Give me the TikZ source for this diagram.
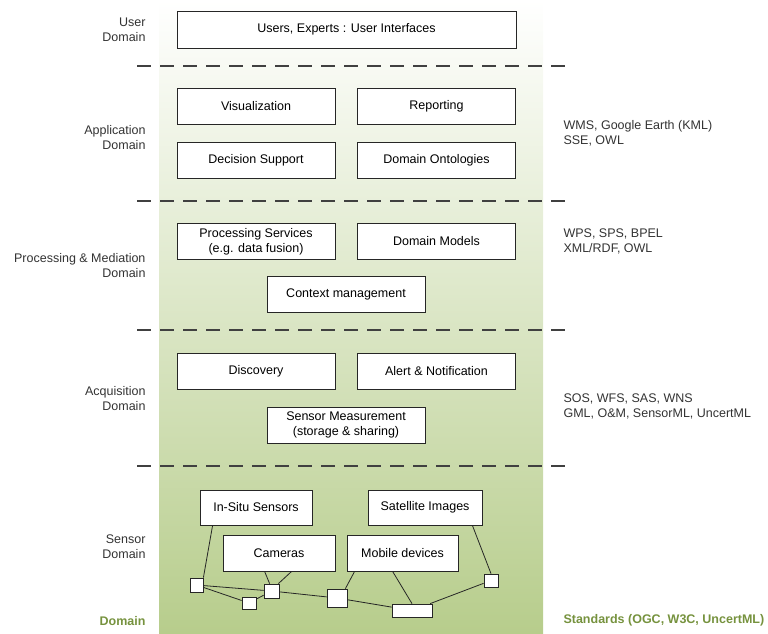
\documentclass[tikz,border=0pt]{standalone}
\usepackage{fontspec}
\setmainfont{Liberation Sans}
\usetikzlibrary{calc}

\definecolor{strip}{RGB}{183,205,140}
\definecolor{olive}{RGB}{118,146,62}

\begin{document}
\begin{tikzpicture}[x=1pt,y=-1pt,
    font=\fontsize{12.5}{15}\selectfont,
    blk/.style={draw=black!85,fill=white,line width=0.8pt,inner sep=0pt,minimum width=158pt,minimum height=36pt,align=center},
    sq/.style={draw=black!85,fill=white,line width=0.8pt,inner sep=0pt,minimum width=#1,minimum height=13pt},
    sep/.style={draw=black!75,line width=1.2pt,dash pattern=on 14pt off 9pt},
    lbl/.style={anchor=east,align=right,text=black!80},
    std/.style={anchor=west,align=left,text=black!80}]
      \useasboundingbox (0,0) rectangle (768,633);
      \shade[top color=white,bottom color=strip] (159,0) rectangle (543,633);

      \draw[sep] (137,66) -- (566,66);
      \draw[sep] (137,201) -- (566,201);
      \draw[sep] (137,330) -- (566,330);
      \draw[sep] (137,466) -- (566,466);

      \node[blk,minimum width=339pt,minimum height=37pt] (users) at (346.5,29.5) {Users, Experts : User Interfaces};

      \node[blk] (vis) at (256,106.5) {Visualization};
      \node[blk] (rep) at (436.5,106.5) {Reporting};
      \node[blk] (dec) at (256,160) {Decision Support};
      \node[blk] (ont) at (436.5,160) {Domain Ontologies};

      \node[blk] (proc) at (256,241.5) {Processing Services\\(e.g. data fusion)};
      \node[blk] (models) at (436.5,241.5) {Domain Models};
      \node[blk] (ctx) at (346,294) {Context management};

      \node[blk] (disc) at (256,371) {Discovery};
      \node[blk] (alert) at (436.5,371) {Alert \& Notification};
      \node[blk] (meas) at (346,425) {Sensor Measurement\\(storage \& sharing)};

      \node[blk,minimum width=112pt,minimum height=35pt] (insitu) at (256,507.5) {In-Situ Sensors};
      \node[blk,minimum width=114pt,minimum height=35pt] (sat) at (425,507.5) {Satellite Images};
      \node[blk,minimum width=112pt] (cam) at (279,553) {Cameras};
      \node[blk,minimum width=111pt] (mob) at (402.5,553) {Mobile devices};

      \node[sq=13pt,minimum height=14pt] (s1) at (196.5,585) {};
      \node[sq=14pt,minimum height=12pt] (s2) at (249,603) {};
      \node[sq=15pt,minimum height=14pt] (s3) at (271.5,591) {};
      \node[sq=20pt,minimum height=18pt] (s4) at (337,598) {};
      \node[sq=40pt] (s5) at (412,610.5) {};
      \node[sq=14pt] (s6) at (491,580.5) {};

      \draw[black!85,line width=0.8pt] ($(insitu.south west)+(13,0)$) -- (s1.north east);
      \draw[black!85,line width=0.8pt] (s1) -- (s3);
      \draw[black!85,line width=0.8pt] (s1) -- (s2);
      \draw[black!85,line width=0.8pt] (s2) -- (s3);
      \draw[black!85,line width=0.8pt] ($(cam.south west)+(42,0)$) -- ($(s3.north west)+(6,0)$);
      \draw[black!85,line width=0.8pt] ($(cam.south west)+(69,0)$) -- ($(s3.north east)+(-1,0)$);
      \draw[black!85,line width=0.8pt] (s3) -- (s4);
      \draw[black!85,line width=0.8pt] ($(mob.south west)+(8,0)$) -- ($(s4.north east)+(-2,0)$);
      \draw[black!85,line width=0.8pt] ($(mob.south west)+(46,0)$) -- (s5.north);
      \draw[black!85,line width=0.8pt] (s4) -- (s5);
      \draw[black!85,line width=0.8pt] (s5) -- (s6);
      \draw[black!85,line width=0.8pt] ($(sat.south east)+(-10,0)$) -- (s6.north);

      \node[lbl] (luser) at (149,30) {User\\Domain};
      \node[lbl] (lapp) at (149,138) {Application\\Domain};
      \node[lbl] (lproc) at (149,266) {Processing \& Mediation\\Domain};
      \node[lbl] (lacq) at (149,399) {Acquisition\\Domain};
      \node[lbl] (lsens) at (149,547) {Sensor\\Domain};
      \node[lbl,text=olive,font=\fontsize{12.5}{15}\selectfont\bfseries] (ldom) at (149,621) {Domain};

      \node[std] (rapp) at (560,133) {WMS, Google Earth (KML)\\SSE, OWL};
      \node[std] (rproc) at (560,241) {WPS, SPS, BPEL\\XML/RDF, OWL};
      \node[std] (racq) at (560,406) {SOS, WFS, SAS, WNS\\GML, O\&M, SensorML, UncertML};
      \node[std,text=olive,font=\fontsize{12.5}{15}\selectfont\bfseries] (rstd) at (560,620) {Standards (OGC, W3C, UncertML)};
\end{tikzpicture}
\end{document}
